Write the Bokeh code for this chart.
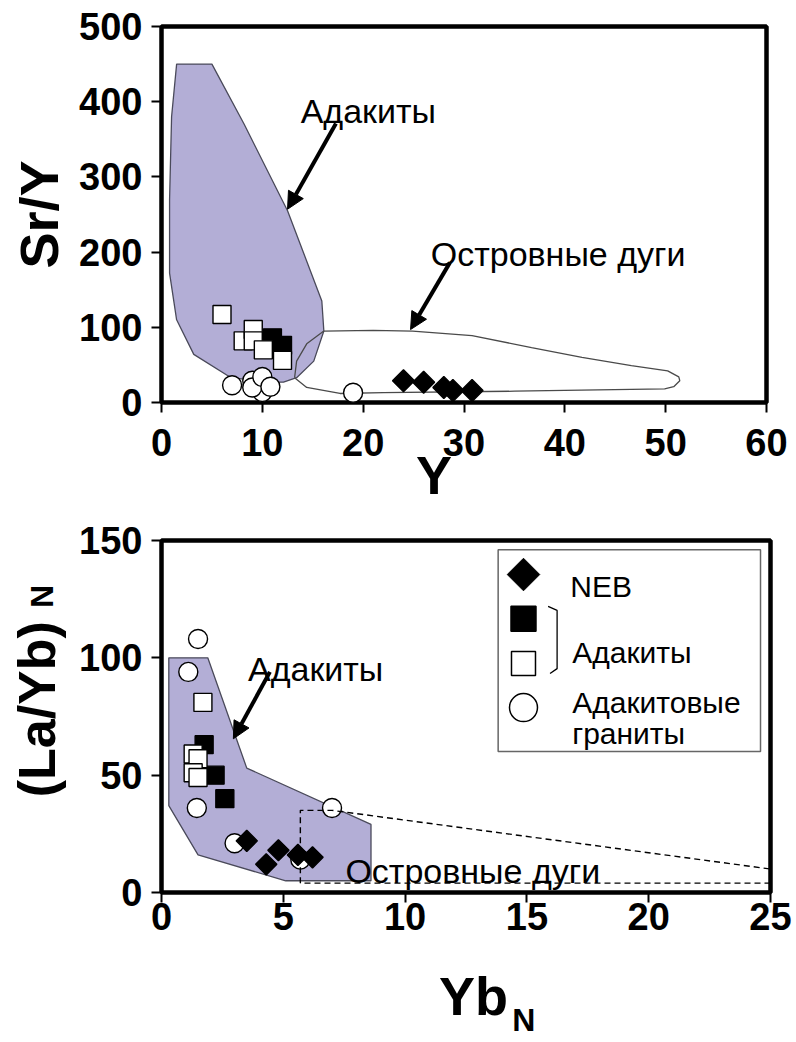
import re
from math import pi
from bokeh.plotting import figure
from bokeh.models import Range1d, Label, Arrow, NormalHead, FixedTicker, LinearAxis
from bokeh.layouts import column
from bokeh.embed import file_html
from bokeh.resources import INLINE

FONT = "Liberation Sans"
PURPLE = "#B3AED6"
PAGE_BG = "#FFFFDC"
NBSP = "\u00a0"

# ---------------- Upper chart: Sr/Y vs Y ----------------
top_x_ticks = [0, 10, 20, 30, 40, 50, 60]
top_y_ticks = [0, 100, 200, 300, 400, 500]

top_neb_y = [24.0, 26.0, 28.0, 28.9, 30.8]
top_neb_sry = [29, 27, 20, 16, 16]
top_adk_fill_y = [11.0, 12.0]
top_adk_fill_sry = [86, 76]
top_adk_open_y = [6.0, 8.1, 9.1, 9.1, 10.1, 12.0]
top_adk_open_sry = [117, 82, 97, 82, 70, 56]
top_gran_y = [10.0, 7.0, 9.0, 9.0, 10.0, 10.8, 19.0]
top_gran_sry = [14, 23, 29, 20, 34, 21, 13]

top_field_adakite_x = [1.5, 5.0, 8.2, 12.5, 15.9, 16.1, 15.1, 13.4, 12.1, 10.8, 6.9, 3.2, 1.5, 0.8, 0.8, 1.0]
top_field_adakite_y = [450, 450, 370, 255, 135, 95, 55, 33, 27, 27, 33, 64, 110, 172, 270, 380]
top_field_arc_x = [13.2, 13.4, 14.4, 16.1, 21.0, 24.9, 30.8, 36.7, 41.7, 46.6, 50.2, 51.3, 51.4, 50.8, 49.9, 35.0, 22.0, 17.7, 14.4, 13.2]
top_field_arc_y = [33, 55, 78, 95, 96, 95, 89, 73, 60, 49, 42, 34, 29, 21, 18, 15, 13, 12, 20, 33]

# ---------------- Lower chart: (La/Yb)N vs YbN ----------------
bot_x_ticks = [0, 5, 10, 15, 20, 25]
bot_y_ticks = [0, 50, 100, 150]

bot_neb_yb = [3.5, 4.3, 4.8, 5.6, 6.2]
bot_neb_layb = [22, 12, 18, 16, 15]
bot_adk_fill_yb = [1.75, 2.2, 2.6]
bot_adk_fill_layb = [63, 50, 40]
bot_adk_open_yb = [1.7, 1.3, 1.5, 1.3, 1.5]
bot_adk_open_layb = [81, 59, 57, 51, 49]
bot_gran_yb = [1.5, 1.1, 1.45, 3.0, 7.0, 5.7]
bot_gran_layb = [108, 94, 36, 21, 36, 14]

bot_field_adakite_x = [0.3, 1.9, 3.5, 8.6, 8.6, 5.1, 1.5, 0.3]
bot_field_adakite_y = [100, 100, 53, 29, 5, 5, 16, 37]
bot_field_arc_x = [25.0, 5.7, 5.7, 7.0, 25.0]
bot_field_arc_y = [4, 4, 35, 35, 10]


def style_axis(ax, label_size):
    ax.axis_line_color = None
    ax.major_tick_out = 10
    ax.major_tick_in = 0
    ax.major_tick_line_width = 2
    ax.major_tick_line_color = "black"
    ax.minor_tick_line_color = None
    ax.major_label_text_font = FONT
    ax.major_label_text_font_size = "38px"
    ax.major_label_text_font_style = "bold"
    ax.major_label_text_color = "black"
    ax.axis_label_text_font = FONT
    ax.axis_label_text_font_size = label_size
    ax.axis_label_text_font_style = "bold"
    ax.axis_label_text_color = "black"


def make_fig(xr, yr, xt, yt, fw, fh, bl, bt, br, bb, margin):
    p = figure(width=bl + fw + br, height=bt + fh + bb, frame_width=fw, frame_height=fh,
               x_range=Range1d(*xr), y_range=Range1d(*yr),
               output_backend="svg", toolbar_location=None,
               min_border_left=bl, min_border_top=bt, min_border_right=br, min_border_bottom=bb,
               background_fill_color="white", border_fill_color="white")
    p.margin = margin
    p.grid.visible = False
    p.outline_line_color = "black"
    p.outline_line_width = 4.5
    p.outline_line_alpha = 1.0
    p.xaxis.ticker = FixedTicker(ticks=xt)
    p.yaxis.ticker = FixedTicker(ticks=yt)
    return p


def sub_axis(label, size, standoff):
    # label-only axis used to place a subscript next to the main axis title
    ax = LinearAxis(ticker=FixedTicker(ticks=[]), axis_label=label)
    ax.axis_line_color = None
    ax.major_tick_out = 0
    ax.major_tick_in = 0
    ax.minor_tick_out = 0
    ax.minor_tick_in = 0
    ax.major_label_standoff = 0
    ax.axis_label_standoff = standoff
    ax.axis_label_text_font = FONT
    ax.axis_label_text_font_size = size
    ax.axis_label_text_font_style = "bold"
    ax.axis_label_text_color = "black"
    return ax


def txt(p, x, y, s, size):
    p.add_layout(Label(x=x, y=y, text=s, text_font=FONT, text_font_size=size,
                       text_color="black", text_align="left", text_baseline="alphabetic"))


def arrow(p, xs, ys, xe, ye):
    p.add_layout(Arrow(end=NormalHead(size=17, fill_color="black", line_color="black"),
                       x_start=xs, y_start=ys, x_end=xe, y_end=ye,
                       line_color="black", line_width=4))


BORDER_LEFT = 156
MARGIN_LEFT = 5

# ---------- upper figure ----------
p1 = make_fig((0, 60), (0, 500), top_x_ticks, top_y_ticks, 605, 376, BORDER_LEFT, 21, 30, 114, (5, 0, 0, MARGIN_LEFT))
for ax in (p1.xaxis[0], p1.yaxis[0]):
    style_axis(ax, "54px")
p1.xaxis.major_label_standoff = 16
p1.yaxis.major_label_standoff = 9
p1.xaxis.axis_label = "Y" + NBSP * 4
p1.xaxis.axis_label_standoff = -14
p1.yaxis.axis_label = "Sr/Y"
p1.yaxis.axis_label_standoff = 7

p1.patch(top_field_adakite_x, top_field_adakite_y, fill_color=PURPLE, line_color="#4A4A5A", line_width=1.3)
p1.line(top_field_arc_x, top_field_arc_y, line_color="#4A4A4A", line_width=1.3)
p1.scatter(top_gran_y, top_gran_sry, marker="circle", size=19, fill_color="white", line_color="black", line_width=1.4)
p1.scatter(top_adk_fill_y, top_adk_fill_sry, marker="square", size=18, fill_color="black", line_color="black", line_width=1.4)
p1.scatter(top_adk_open_y, top_adk_open_sry, marker="square", size=18, fill_color="white", line_color="black", line_width=1.4)
p1.scatter(top_neb_y, top_neb_sry, marker="square", angle=pi / 4, size=15.5, fill_color="black", line_color="black", line_width=1.4)
txt(p1, 13.8, 388, "Адакиты", "34px")
arrow(p1, 17.3, 371, 12.5, 257)
txt(p1, 26.7, 198, "Островные дуги", "34px")
arrow(p1, 28.6, 186, 24.7, 97)

# ---------- lower figure ----------
p2 = make_fig((0, 25), (0, 150), bot_x_ticks, bot_y_ticks, 609, 352, BORDER_LEFT, 24, 26, 150, (0, 0, 0, MARGIN_LEFT))
style_axis(p2.xaxis[0], "54px")
style_axis(p2.yaxis[0], "52px")
p2.xaxis.major_label_standoff = 0
p2.yaxis.major_label_standoff = 9
p2.xaxis.axis_label = NBSP + "Yb"
p2.xaxis.axis_label_standoff = 33
p2.yaxis.axis_label = NBSP + "(La/Yb)"
p2.yaxis.axis_label_standoff = 10
p2.add_layout(sub_axis(NBSP * 13 + "N", "32px", -27), "below")
p2.add_layout(sub_axis(NBSP * 27 + "N", "32px", -54), "left")

p2.patch(bot_field_adakite_x, bot_field_adakite_y, fill_color=PURPLE, line_color="#4A4A5A", line_width=1.3)
p2.scatter(bot_gran_yb, bot_gran_layb, marker="circle", size=19, fill_color="white", line_color="black", line_width=1.4)
p2.scatter(bot_adk_fill_yb, bot_adk_fill_layb, marker="square", size=18, fill_color="black", line_color="black", line_width=1.4)
p2.scatter(bot_adk_open_yb, bot_adk_open_layb, marker="square", size=18, fill_color="white", line_color="black", line_width=1.4)
p2.scatter(bot_neb_yb, bot_neb_layb, marker="square", angle=pi / 4, size=15, fill_color="black", line_color="black", line_width=1.4)
p2.line(bot_field_arc_x, bot_field_arc_y, line_color="black", line_width=1.4, line_dash="6 4")
txt(p2, 3.55, 95.4, "Адакиты", "34px")
arrow(p2, 4.45, 94.0, 2.95, 65.5)
txt(p2, 7.55, 9.0, "Островные дуги", "34px")

# legend (hand-built to mirror the original's bracketed group)
LEG_BOX = dict(left=13.82, right=24.59, bottom=60.1, top=146.1)
p2.quad(left=[LEG_BOX["left"]], right=[LEG_BOX["right"]], bottom=[LEG_BOX["bottom"]], top=[LEG_BOX["top"]],
        fill_color="white", line_color="#666666", line_width=1.5)
LEG_MX = 14.86
p2.scatter([LEG_MX], [135.5], marker="square", angle=pi / 4, size=23, fill_color="black", line_color="black")
p2.scatter([LEG_MX], [116.7], marker="square", size=25, fill_color="black", line_color="black", line_width=1.5)
p2.scatter([LEG_MX], [97.6], marker="square", size=24, fill_color="white", line_color="black", line_width=1.5)
p2.scatter([LEG_MX], [78.8], marker="circle", size=28, fill_color="white", line_color="black", line_width=1.5)
p2.line([15.87, 16.24, 16.24, 15.95], [121.9, 120.2, 95.4, 93.3], line_color="black", line_width=1.3)
txt(p2, 16.78, 130.4, "NEB", "30px")
txt(p2, 16.86, 102.3, "Адакиты", "30px")
txt(p2, 16.86, 81.0, "Адакитовые", "30px")
txt(p2, 16.86, 67.7, "граниты", "30px")

layout = column(p1, p2, spacing=0)
html = file_html(layout, INLINE, title="Sr/Y и (La/Yb)N")
html = re.sub(r"<body([^>]*)>",
              '<body\\1 style="background-color:%s;margin:0;overflow:hidden;">' % PAGE_BG, html, count=1)
open("out.html", "w").write(html)
